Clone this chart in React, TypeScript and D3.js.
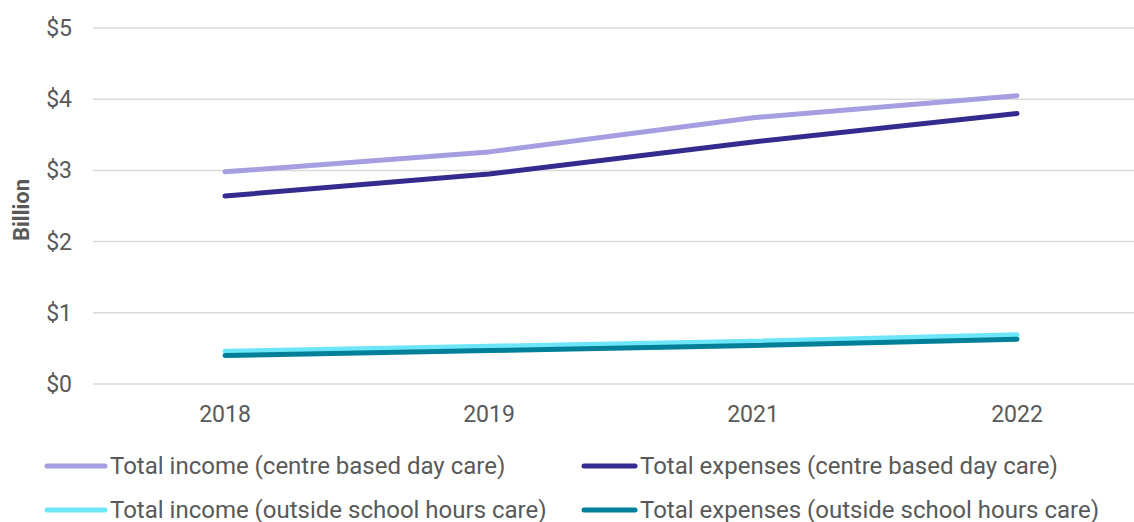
import React from "react";
import * as d3 from "d3";

const years = ["2018", "2019", "2021", "2022"];
const incomeCBDC = [2.98, 3.26, 3.74, 4.05];
const expensesCBDC = [2.64, 2.95, 3.4, 3.8];
const incomeOSHC = [0.46, 0.53, 0.6, 0.69];
const expensesOSHC = [0.4, 0.47, 0.54, 0.63];
const yTicks = [0, 1, 2, 3, 4, 5];

const seriesNames = [
  "Total income (centre based day care)",
  "Total expenses (centre based day care)",
  "Total income (outside school hours care)",
  "Total expenses (outside school hours care)",
];
const seriesColors = ["#a59ee0", "#352a8e", "#6ee6fa", "#007f99"];
const seriesValues = [incomeCBDC, expensesCBDC, incomeOSHC, expensesOSHC];

const W = 1134;
const H = 522;
const font = "Roboto, 'Noto Sans', sans-serif";
const textColor = "#595959";

export default function App() {
  const x = d3.scaleBand<string>().domain(years).range([93, 1149]);
  const y = d3.scaleLinear().domain([0, 5]).range([384, 28]);
  const line = d3
    .line<number>()
    .x((_, i) => (x(years[i]) as number) + x.bandwidth() / 2)
    .y((d) => y(d));

  const legendPos = [
    { lx: 47, tx: 110, ly: 466 },
    { lx: 584, tx: 640, ly: 466 },
    { lx: 47, tx: 110, ly: 510 },
    { lx: 584, tx: 640, ly: 510 },
  ];

  return (
    <svg
      width={W}
      height={H}
      style={{ position: "absolute", left: 0, top: 0, background: "#fff" }}
    >
      {yTicks.map((t) => (
        <g key={t}>
          <line x1={93} x2={W} y1={y(t)} y2={y(t)} stroke="#d9d9d9" strokeWidth={1.5} />
          <text
            x={72}
            y={y(t)}
            dy="0.35em"
            textAnchor="end"
            fontFamily={font}
            fontSize={23}
            fill={textColor}
          >
            {`$${t}`}
          </text>
        </g>
      ))}
      <text
        transform={`translate(29,210) rotate(-90)`}
        textAnchor="middle"
        fontFamily={font}
        fontSize={22}
        fontWeight="bold"
        fill={textColor}
      >
        Billion
      </text>
      {years.map((yr) => (
        <text
          key={yr}
          x={(x(yr) as number) + x.bandwidth() / 2}
          y={422}
          textAnchor="middle"
          fontFamily={font}
          fontSize={23}
          fill={textColor}
        >
          {yr}
        </text>
      ))}
      {seriesValues.map((vals, i) => (
        <path
          key={i}
          d={line(vals) as string}
          fill="none"
          stroke={seriesColors[i]}
          strokeWidth={5}
          strokeLinecap="round"
          strokeLinejoin="round"
        />
      ))}
      {seriesNames.map((name, i) => (
        <g key={name}>
          <line
            x1={legendPos[i].lx}
            x2={legendPos[i].tx - 5}
            y1={legendPos[i].ly}
            y2={legendPos[i].ly}
            stroke={seriesColors[i]}
            strokeWidth={5}
            strokeLinecap="round"
          />
          <text
            x={legendPos[i].tx}
            y={legendPos[i].ly}
            dy="0.35em"
            fontFamily={font}
            fontSize={24}
            fill={textColor}
          >
            {name}
          </text>
        </g>
      ))}
    </svg>
  );
}
